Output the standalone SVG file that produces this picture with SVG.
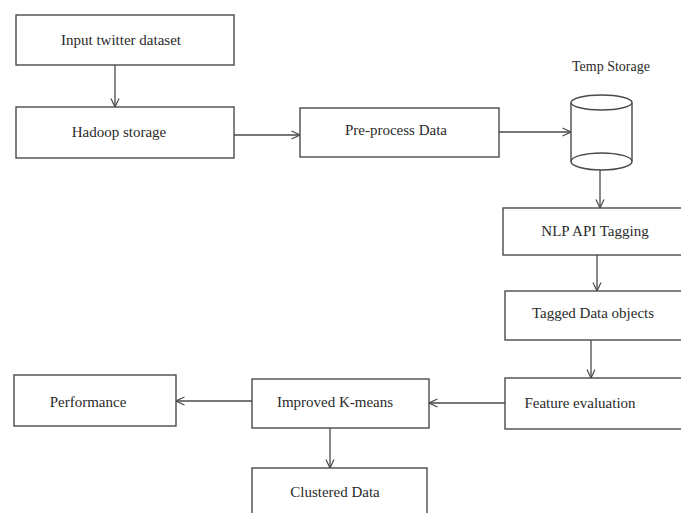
<svg xmlns="http://www.w3.org/2000/svg" width="681" height="513" viewBox="0 0 681 513">
<defs>
<style>
.box{fill:#fff;stroke:#4a4a4a;stroke-width:1.4}
.lbl{font-family:"Liberation Serif","Times New Roman",serif;font-size:15px;fill:#2a2a2a;text-anchor:middle;dominant-baseline:central}
.edge{fill:none;stroke:#4a4a4a;stroke-width:1.3}
</style>
<marker id="arr" viewBox="0 0 10 10" refX="9.5" refY="5" markerWidth="10" markerHeight="10" markerUnits="userSpaceOnUse" orient="auto">
<polyline points="1,1 9.5,5 1,9" fill="none" stroke="#4a4a4a" stroke-width="1.2"/>
</marker>
</defs>
<rect width="681" height="513" fill="#fff"/>
<g id="connectors">
<line class="edge" x1="115" y1="65" x2="115" y2="107" marker-end="url(#arr)"/>
<line class="edge" x1="234" y1="135" x2="300" y2="135" marker-end="url(#arr)"/>
<line class="edge" x1="499" y1="132" x2="571" y2="132" marker-end="url(#arr)"/>
<line class="edge" x1="600" y1="170" x2="600" y2="208" marker-end="url(#arr)"/>
<line class="edge" x1="597" y1="255" x2="597" y2="291" marker-end="url(#arr)"/>
<line class="edge" x1="591" y1="340" x2="591" y2="378" marker-end="url(#arr)"/>
<line class="edge" x1="505" y1="403" x2="429" y2="403" marker-end="url(#arr)"/>
<line class="edge" x1="252" y1="401" x2="176" y2="401" marker-end="url(#arr)"/>
<line class="edge" x1="330" y1="428" x2="330" y2="468" marker-end="url(#arr)"/>
</g>
<g id="input">
<rect class="box" x="16" y="15" width="218" height="50"/>
<text class="lbl" x="121" y="40">Input twitter dataset</text>
</g>
<g id="hadoop">
<rect class="box" x="16" y="107" width="218" height="51"/>
<text class="lbl" x="119" y="132">Hadoop storage</text>
</g>
<g id="preprocess">
<rect class="box" x="300" y="108" width="199" height="49"/>
<text class="lbl" x="396" y="130">Pre-process Data</text>
</g>
<g id="temp">
<text class="lbl" x="611" y="66" style="font-size:14px">Temp Storage</text>
<path class="box" d="M571,102.5 V161.5 A30.5,8.5 0 0 0 632,161.5 V102.5"/>
<ellipse class="box" cx="601.5" cy="102.5" rx="30.5" ry="7.5"/>
<path class="edge" d="M571,161.5 A30.5,8.5 0 0 1 632,161.5"/>
</g>
<g id="nlp">
<rect class="box" x="503" y="208" width="190" height="47"/>
<text class="lbl" x="595" y="231">NLP API Tagging</text>
</g>
<g id="tagged">
<rect class="box" x="505" y="291" width="190" height="49"/>
<text class="lbl" x="593" y="313">Tagged Data objects</text>
</g>
<g id="feature">
<rect class="box" x="505" y="378" width="190" height="51"/>
<text class="lbl" x="580" y="403">Feature evaluation</text>
</g>
<g id="kmeans">
<rect class="box" x="252" y="379" width="177" height="49"/>
<text class="lbl" x="335" y="402">Improved K-means</text>
</g>
<g id="performance">
<rect class="box" x="14" y="375" width="162" height="51"/>
<text class="lbl" x="88" y="402">Performance</text>
</g>
<g id="clustered">
<rect class="box" x="252" y="468" width="175" height="60"/>
<text class="lbl" x="335" y="492">Clustered Data</text>
</g>
</svg>
